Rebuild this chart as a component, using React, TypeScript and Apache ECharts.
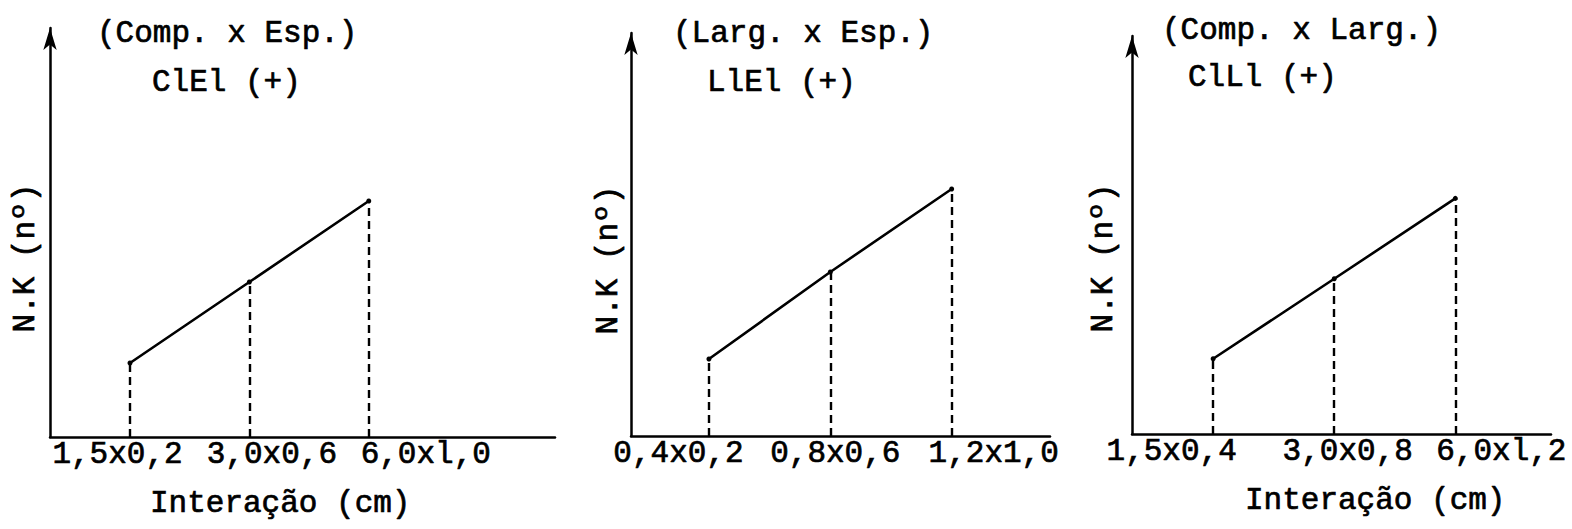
import React, { useEffect, useRef } from "react";
import * as echarts from "echarts";

// ---- data ----
const positions = [1, 2, 3];
const panel1Labels = ["1,5x0,2", "3,0x0,6", "6,0xl,0"];
const panel1Values = [1.81, 3.79, 5.77];
const panel2Labels = ["0,4x0,2", "0,8x0,6", "1,2x1,0"];
const panel2Values = [1.91, 4.07, 6.13];
const panel3Labels = ["1,5x0,4", "3,0x0,8", "6,0xl,2"];
const panel3Values = [1.89, 3.9, 5.92];
const panelTitles = ["(Comp. x Esp.)", "(Larg. x Esp.)", "(Comp. x Larg.)"];
const panelSubtitles = ["ClEl (+)", "LlEl (+)", "ClLl (+)"];
const yAxisName = "N.K (nº)";
const xAxisName = "Interação (cm)";

const FONT = "'Liberation Mono', 'Courier New', monospace";
const FS = 31;
const STROKE = 0.7;

const panelLabels = [panel1Labels, panel2Labels, panel3Labels];
const panelValues = [panel1Values, panel2Values, panel3Values];

// ---- layout (pixels) ----
const layout = [
  { left: 50, top: 28, width: 505, height: 409, xMin: 0.33, xMax: 4.56, shift: [-12.5, 22.5, 57], title: [97, 33], sub: [152, 82], yName: [25, 258], xName: [150, 503] as number[] | null },
  { left: 631, top: 33, width: 419, height: 403, xMin: 0.358, xMax: 3.81, shift: [-30.5, 5, 42], title: [673, 33], sub: [707, 82], yName: [608, 260], xName: null as number[] | null },
  { left: 1132, top: 36, width: 419, height: 398, xMin: 0.33, xMax: 3.79, shift: [-41.5, 13.5, 46], title: [1162, 30], sub: [1188, 77], yName: [1103, 258], xName: [1245, 500] as number[] | null },
];

function textEl(text: string, x: number, y: number, rotation = 0, align = "left") {
  return {
    type: "text",
    x,
    y,
    rotation,
    silent: true,
    style: {
      text,
      font: `${FS}px ${FONT}`,
      fill: "#000",
      stroke: "#000",
      lineWidth: STROKE,
      textAlign: align,
      textVerticalAlign: "middle",
    },
  };
}

export default function App() {
  const ref = useRef<HTMLDivElement>(null);
  useEffect(() => {
    if (!ref.current) return;
    const chart = echarts.init(ref.current, undefined, { renderer: "svg" });

    const grid: any[] = [];
    const xAxis: any[] = [];
    const yAxis: any[] = [];
    const series: any[] = [];
    const graphic: any[] = [];

    layout.forEach((L, p) => {
      const labels = panelLabels[p];
      const values = panelValues[p];
      grid.push({ left: L.left, top: L.top, width: L.width, height: L.height, containLabel: false, outerBoundsMode: "none" });
      const rich: any = {};
      L.shift.forEach((d, i) => {
        rich["o" + i] = {
          fontFamily: FONT,
          fontSize: FS,
          color: "#000",
          textBorderColor: "#000",
          textBorderWidth: STROKE,
          padding: d < 0 ? [0, -2 * d, 0, 0] : [0, 0, 0, 2 * d],
        };
      });
      xAxis.push({
        type: "value",
        gridIndex: p,
        min: L.xMin,
        max: L.xMax,
        splitLine: { show: false },
        axisTick: { show: false },
        axisLine: { show: true, lineStyle: { color: "#000", width: 2.5 } },
        axisLabel: {
          show: true,
          customValues: positions,
          margin: 2,
          fontFamily: FONT,
          fontSize: FS,
          color: "#000",
          formatter: (v: number) => {
            const i = positions.indexOf(v);
            return i < 0 ? "" : `{o${i}|${labels[i]}}`;
          },
          rich,
        },
      });
      yAxis.push({
        type: "value",
        gridIndex: p,
        min: 0,
        max: 10,
        splitLine: { show: false },
        axisTick: { show: false },
        axisLabel: { show: false },
        axisLine: {
          show: true,
          symbol: ["none", "arrow"],
          symbolSize: [10, 22],
          lineStyle: { color: "#000", width: 2.5 },
        },
      });
      series.push({
        type: "line",
        xAxisIndex: p,
        yAxisIndex: p,
        data: positions.map((x, i) => [x, values[i]]),
        symbol: "circle",
        symbolSize: 5,
        itemStyle: { color: "#000" },
        lineStyle: { color: "#000", width: 2.6 },
        silent: true,
        markLine: {
          silent: true,
          symbol: ["none", "none"],
          label: { show: false },
          lineStyle: { color: "#000", width: 2.4, type: [8, 5] },
          data: positions.map((x, i) => [{ coord: [x, 0] }, { coord: [x, values[i]] }]),
        },
      });
      graphic.push(textEl(panelTitles[p], L.title[0], L.title[1]));
      graphic.push(textEl(panelSubtitles[p], L.sub[0], L.sub[1]));
      graphic.push(textEl(yAxisName, L.yName[0], L.yName[1], Math.PI / 2, "center"));
      if (L.xName) graphic.push(textEl(xAxisName, L.xName[0], L.xName[1]));
    });

    chart.setOption({
      animation: false,
      backgroundColor: "#fff",
      grid,
      xAxis,
      yAxis,
      series,
      graphic,
    });
    return () => chart.dispose();
  }, []);
  return (
    <div
      ref={ref}
      style={{ position: "fixed", left: 0, top: 0, width: 1572, height: 529, background: "#fff" }}
    />
  );
}
